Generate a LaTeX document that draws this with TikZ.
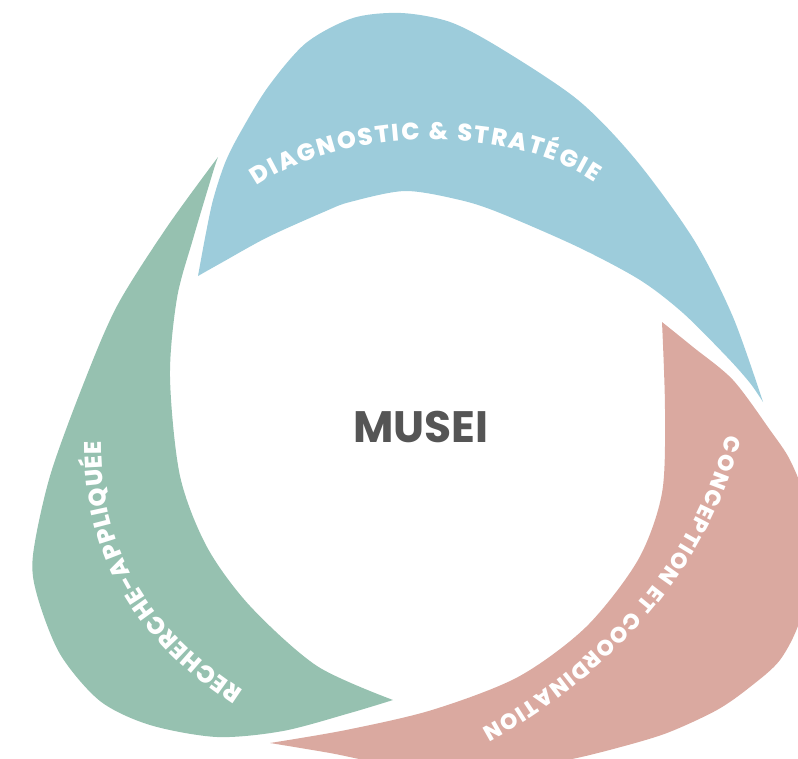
\documentclass[tikz,border=0pt]{standalone}
\usepackage{fontspec}
\setmainfont{Poppins}
\IfFontExistsTF{Poppins ExtraBold}{\newfontfamily\gras{Poppins ExtraBold}}{\newfontfamily\gras{Poppins}[UprightFont=* Bold]}
\usetikzlibrary{decorations.text}
\definecolor{bleu}{HTML}{9DCCDB}
\definecolor{vert}{HTML}{96C1B0}
\definecolor{rose}{HTML}{DAA9A0}
\definecolor{gris}{HTML}{555555}
\newcommand{\lettres}[2]{\gras\fontsize{#1}{#1}\selectfont\color{white}\kern#2}

\begin{document}
\begin{tikzpicture} [x=1pt, y=-1pt]
\tikzstyle{arc}=[decorate, decoration={text along path, text align=center, text format delimiters={|}{|}}]
\useasboundingbox (0,0) rectangle (798,758);
\clip (0,0) rectangle (798,758);
% diagnostic
\fill[bleu] plot[smooth] coordinates {(198,276) (205,238) (213,200) (225,163) (240,133) (268,87) (306,43) (353,18) (401,13) (450,22) (500,48) (578,100) (636,160) (694,240) (733,317) (763,402)}
-- plot[smooth] coordinates {(763,402) (750,383) (727,357) (683,313) (640,280) (578,247) (500,213) (460,200) (405,191) (350,202) (326,211) (268,237) (221,263) (198,276)} -- cycle;
% recherche
\fill[vert] plot[smooth] coordinates {(218,157) (167,227) (117,306) (83,385) (50,476) (33,555) (37,595) (60,654) (100,701) (150,725) (217,737) (283,731) (350,713) (393,700)}
-- plot[smooth] coordinates {(393,700) (317,666) (250,606) (207,547) (180,476) (170,377) (177,298) (193,239) (213,172) (218,157)} -- cycle;
% conception
\fill[rose] plot[smooth] coordinates {(270,743) (346,730) (432,710) (518,677) (586,627) (638,560) (662,493) (665,410) (662,322)}
-- plot[smooth] coordinates {(662,322) (693,347) (733,380) (770,430) (790,460) (805,500) (810,560) (800,620) (780,660) (750,687) (717,710) (667,733) (617,748) (567,760) (500,770) (400,766) (330,753) (270,743)} -- cycle;
% labels
\path[arc, decoration={text={|\lettres{24}{2pt}|DIAGNOSTIC {\&} STRATÉGIE}}]
(245,195) .. controls (330,125) and (520,120) .. (605,190);
\path[arc, decoration={text={|\lettres{24}{0.8pt}|RECHERCHE-APPLIQUÉE}}]
(258,700) .. controls (160,640) and (95,560) .. (102,425);
\path[arc, decoration={text={|\lettres{22}{1.4pt}|CONCEPTION ET COORDINATION}}]
(730,420) .. controls (705,540) and (615,660) .. (470,735);
\node[anchor=base, text=gris, font=\bfseries\fontsize{44}{44}\selectfont] (musei) at (421,442) {MUSEI};
\end{tikzpicture}
\end{document}
